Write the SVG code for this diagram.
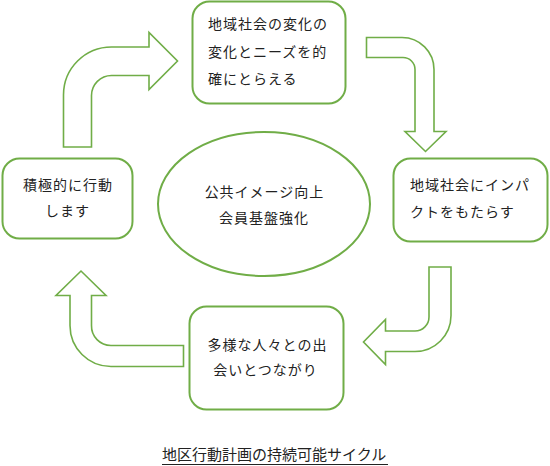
<svg xmlns="http://www.w3.org/2000/svg" width="550" height="466" viewBox="0 0 550 466">
<style>
.box{fill:#fff;stroke:#70AD47;stroke-width:2}
.arr{fill:#fff;stroke:#70AD47;stroke-width:1.6;stroke-linejoin:miter}
.t{font-family:"Noto Sans CJK JP","Noto Sans",sans-serif;font-size:14px;letter-spacing:1px;fill:#222}
.c{text-anchor:middle}
</style>
<rect width="550" height="466" fill="#fff"/>
<g id="connectors">
<path class="arr" d="M63.5,147 V95 A48,48 0 0 1 111.5,47 H149 V32.5 L177.5,61 L149,89.5 V75.5 H111.5 A20,20 0 0 0 91.5,95.5 V147 Z"/>
<path class="arr" d="M366.5,37.5 H402 A32,32 0 0 1 434,69.5 V131.5 H446 L425.5,151.5 L405,131.5 H415 V69.5 A12,12 0 0 0 403,57.5 H366.5 Z"/>
<path class="arr" d="M429,267 H451 V315.5 A36,36 0 0 1 415,351.5 H385.5 V364.5 L363.5,342 L385.5,319.5 V331 H415 A14,14 0 0 0 429,317 Z"/>
<path class="arr" d="M183.5,345.5 V366.5 H111 A41,41 0 0 1 70,325.5 V295.5 H56 L81,271 L106,295.5 H91.5 V325.5 A19.5,19.5 0 0 0 111,345.5 Z"/>
</g>
<g id="center">
<ellipse class="box" cx="264" cy="204" rx="106" ry="72"/>
<text class="t c" x="264.5" y="197">公共イメージ向上</text>
<text class="t c" x="264" y="223">会員基盤強化</text>
</g>
<g id="node-top">
<rect class="box" x="192.5" y="1.5" width="153" height="102" rx="17"/>
<text class="t" x="208" y="29">地域社会の変化の</text>
<text class="t" x="208" y="57">変化とニーズを的</text>
<text class="t" x="208" y="84">確にとらえる</text>
</g>
<g id="node-right">
<rect class="box" x="393.5" y="158.5" width="154" height="83" rx="17"/>
<text class="t" x="410" y="190">地域社会にインパ</text>
<text class="t" x="410" y="217">クトをもたらす</text>
</g>
<g id="node-bottom">
<rect class="box" x="189.5" y="306.5" width="154" height="103" rx="17"/>
<text class="t c" x="267.5" y="350">多様な人々との出</text>
<text class="t c" x="265.5" y="375">会いとつながり</text>
</g>
<g id="node-left">
<rect class="box" x="2.5" y="158.5" width="130" height="80" rx="17"/>
<text class="t c" x="68" y="190">積極的に行動</text>
<text class="t c" x="67.5" y="216">します</text>
</g>
<g id="caption">
<text x="162" y="460" style="font-family:'Noto Sans CJK JP','Noto Sans',sans-serif;font-size:15px;fill:#222">地区行動計画の持続可能サイクル</text>
<line x1="162" y1="464.5" x2="388" y2="464.5" stroke="#222" stroke-width="1"/>
</g>
</svg>
